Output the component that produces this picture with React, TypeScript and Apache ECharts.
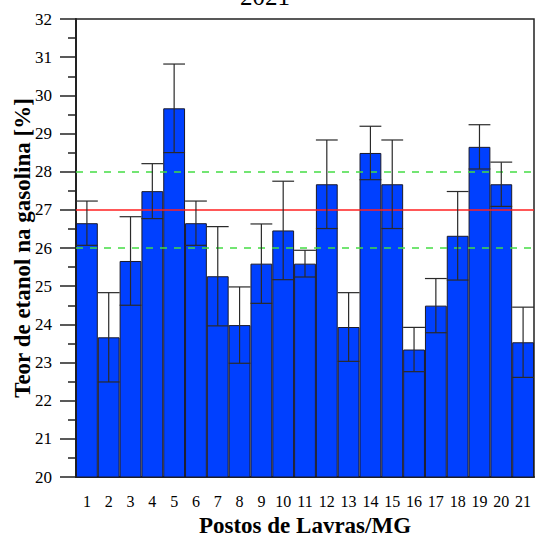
import React, { useEffect, useRef } from "react";
import * as echarts from "echarts";

const categories = ["1","2","3","4","5","6","7","8","9","10","11","12","13","14","15","16","17","18","19","20","21"];
const means = [26.65, 23.66, 25.66, 27.49, 29.66, 26.65, 25.26, 23.98, 25.59, 26.46, 25.59, 27.67, 23.93, 28.49, 27.67, 23.34, 24.49, 26.32, 28.65, 27.67, 23.53];
const errors = [0.58, 1.17, 1.16, 0.72, 1.16, 0.58, 1.3, 1.0, 1.04, 1.29, 0.35, 1.16, 0.9, 0.7, 1.16, 0.58, 0.71, 1.16, 0.58, 0.58, 0.92];
const legalLimit = 27;
const toleranceLimits = [26, 28];
const titleText = "2021";
const xName = "Postos de Lavras/MG";
const yName = "Teor de etanol na gasolina [%]";

const FAMILY = "Liberation Serif";

export default function App() {
  const ref = useRef<HTMLDivElement>(null);
  useEffect(() => {
    if (!ref.current) return;
    const chart = echarts.init(ref.current, null, { renderer: "svg" });
    const gridLeft = 76, gridTop = 19, gridRight = 1, gridBottom = 59;
    const option: any = {
      animation: false,
      backgroundColor: "#fff",
      textStyle: { fontFamily: FAMILY },
      grid: { left: gridLeft, top: gridTop, right: gridRight, bottom: gridBottom, show: true, borderColor: "#222", borderWidth: 1.5 },
      graphic: [
        { type: "text", x: 265, y: 9, style: { text: titleText, fontFamily: FAMILY, fontSize: 25, align: "center", verticalAlign: "bottom", fill: "#000" } },
        { type: "text", x: 305, y: 525, style: { text: xName, fontFamily: FAMILY, fontSize: 23, fontWeight: "bold", align: "center", verticalAlign: "middle", fill: "#000" } },
        { type: "text", x: 22, y: 248, rotation: Math.PI / 2, style: { text: yName, fontFamily: FAMILY, fontSize: 23, fontWeight: "bold", align: "center", verticalAlign: "middle", fill: "#000" } },
      ],
      xAxis: {
        type: "category",
        data: categories,
        axisLine: { lineStyle: { color: "#222", width: 2 } },
        axisTick: { alignWithLabel: true, length: 7, lineStyle: { color: "#222", width: 1.5 } },
        axisLabel: { fontFamily: FAMILY, fontSize: 16, color: "#000", margin: 16, interval: 0 },
      },
      yAxis: {
        type: "value",
        min: 20,
        max: 32,
        interval: 1,
        axisLine: { show: true, lineStyle: { color: "#222", width: 2 } },
        axisTick: { show: true, length: 16, lineStyle: { color: "#222", width: 1.5 } },
        minorTick: { show: true, splitNumber: 2, length: 8, lineStyle: { color: "#222", width: 1.5 } },
        splitLine: { show: false },
        axisLabel: { fontFamily: FAMILY, fontSize: 17, color: "#000", margin: 24 },
      },
      series: [
        {
          type: "bar",
          data: means,
          barCategoryGap: "0%",
          itemStyle: { color: "#0040ff", borderColor: "#1a1a2a", borderWidth: 1 },
          markLine: {
            silent: true,
            symbol: "none",
            label: { show: false },
            data: [
              { yAxis: legalLimit, lineStyle: { color: "#ff2020", type: "solid", width: 1.5 } },
              ...toleranceLimits.map((v) => ({ yAxis: v, lineStyle: { color: "#44dd44", type: [7, 7], width: 1.5 } })),
            ],
          },
          z: 2,
        },
        {
          type: "custom",
          data: means.map((m, i) => [i, m, errors[i]]),
          encode: { x: 0, y: 1 },
          z: 5,
          renderItem: (params: any, api: any) => {
            const x = api.value(0);
            const m = api.value(1);
            const e = api.value(2);
            const hi = api.coord([x, m + e]);
            const lo = api.coord([x, m - e]);
            const half = api.size([1, 0])[0] / 2;
            const st = { stroke: "#2a2a2a", lineWidth: 1.2 };
            return {
              type: "group",
              children: [
                { type: "line", shape: { x1: hi[0], y1: hi[1], x2: lo[0], y2: lo[1] }, style: st },
                { type: "line", shape: { x1: hi[0] - half, y1: hi[1], x2: hi[0] + half, y2: hi[1] }, style: st },
                { type: "line", shape: { x1: lo[0] - half, y1: lo[1], x2: lo[0] + half, y2: lo[1] }, style: st },
              ],
            };
          },
        },
      ],
    };
    chart.setOption(option);
    return () => chart.dispose();
  }, []);
  return <div ref={ref} style={{ position: "fixed", left: 0, top: 0, width: 535, height: 536 }} />;
}
